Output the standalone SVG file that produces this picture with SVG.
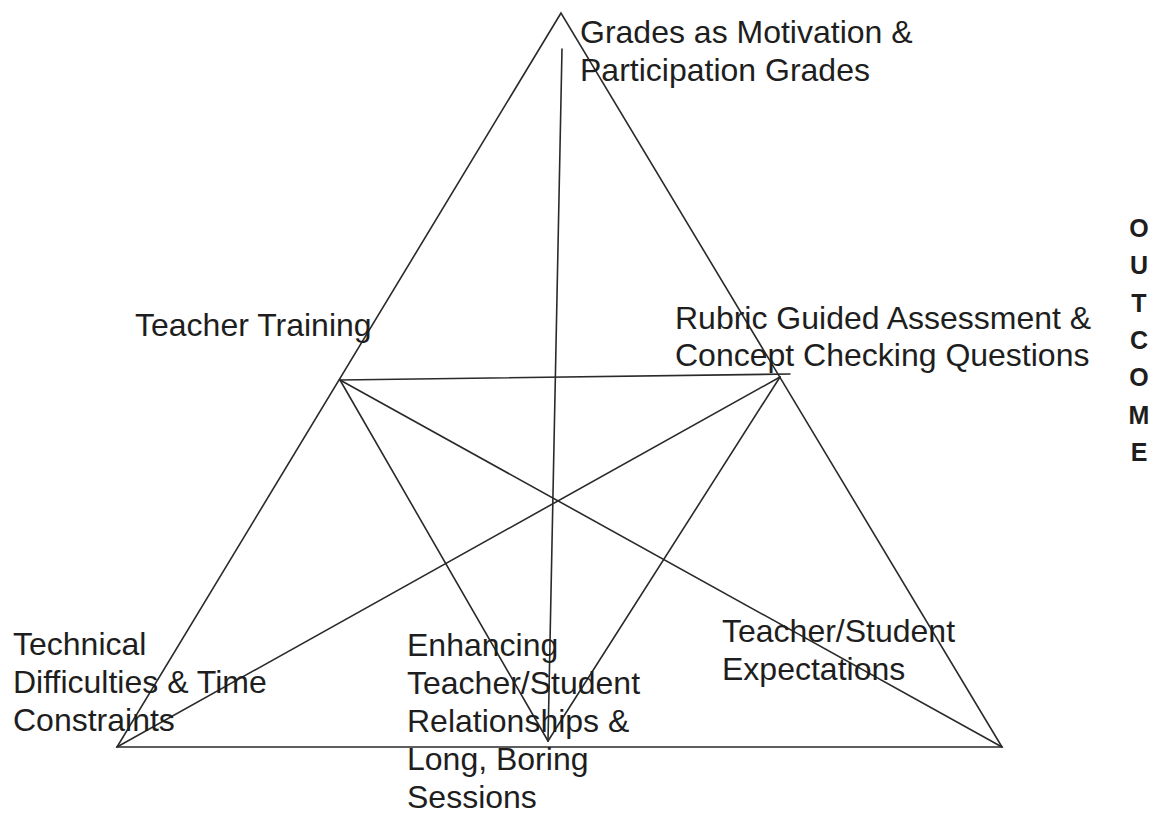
<svg xmlns="http://www.w3.org/2000/svg" width="1164" height="813" viewBox="0 0 1164 813">
<style>
.ln{stroke:#2a2a2a;stroke-width:1.6;fill:none;stroke-linecap:round;stroke-linejoin:miter}
.t{font-family:"Liberation Sans",Arial,sans-serif;font-size:32px;fill:#1e1e1e}
.o{font-family:"Liberation Sans",Arial,sans-serif;font-size:25px;font-weight:bold;fill:#1e1e1e;text-anchor:middle}
</style>
<rect width="1164" height="813" fill="#ffffff"/>
<g id="connectors">
<polygon class="ln" points="561,13 117,747 1002,747"/>
<line class="ln" x1="562" y1="49" x2="548" y2="741"/>
<line class="ln" x1="340" y1="380" x2="790" y2="374"/>
<line class="ln" x1="340" y1="380" x2="548" y2="741"/>
<line class="ln" x1="780" y1="377" x2="548" y2="741"/>
<line class="ln" x1="340" y1="380" x2="1002" y2="747"/>
<line class="ln" x1="780" y1="377" x2="117" y2="747"/>
</g>
<g id="node-grades"><text class="t" x="580" y="43">Grades as Motivation &amp;</text><text class="t" x="580" y="81">Participation Grades</text></g>
<g id="node-teacher-training"><text class="t" x="135" y="336">Teacher Training</text></g>
<g id="node-rubric"><text class="t" x="675" y="329">Rubric Guided Assessment &amp;</text><text class="t" x="675" y="366">Concept Checking Questions</text></g>
<g id="node-technical"><text class="t" x="13" y="655">Technical</text><text class="t" x="13" y="693">Difficulties &amp; Time</text><text class="t" x="13" y="731">Constraints</text></g>
<g id="node-enhancing"><text class="t" x="407" y="656">Enhancing</text><text class="t" x="407" y="694">Teacher/Student</text><text class="t" x="407" y="732">Relationships &amp;</text><text class="t" x="407" y="770">Long, Boring</text><text class="t" x="407" y="808">Sessions</text></g>
<g id="node-expectations"><text class="t" x="722" y="642">Teacher/Student</text><text class="t" x="722" y="680">Expectations</text></g>
<g id="node-outcome"><text class="o" x="1139" y="237">O</text><text class="o" x="1139" y="274">U</text><text class="o" x="1139" y="312">T</text><text class="o" x="1139" y="349">C</text><text class="o" x="1139" y="386">O</text><text class="o" x="1139" y="424">M</text><text class="o" x="1139" y="461">E</text></g>
</svg>
